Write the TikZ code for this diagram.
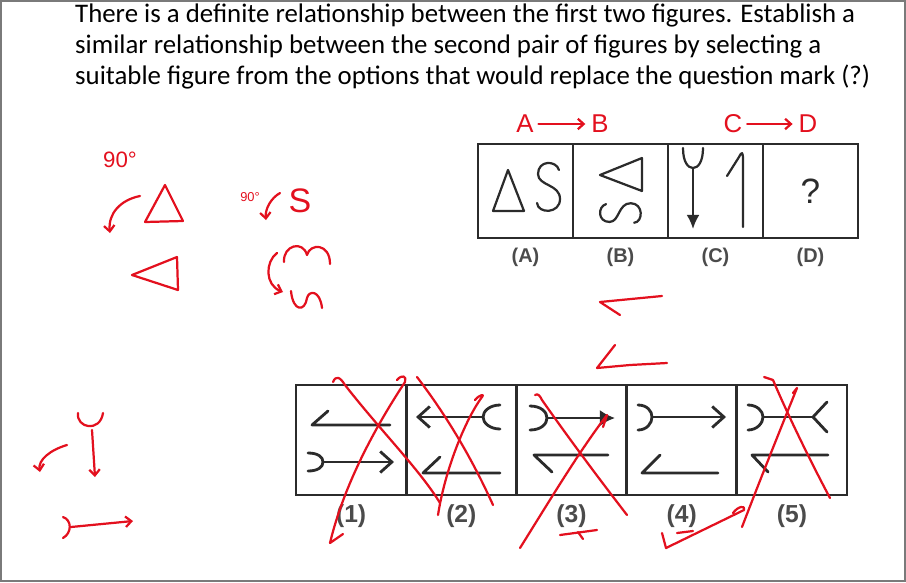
\documentclass[tikz,border=0pt]{standalone}
\usepackage{fontspec}
\setmainfont{Carlito}
\newfontfamily\labelfont{Liberation Sans}
\usepackage{xcolor}
\definecolor{ink}{HTML}{E3101E}
\definecolor{scan}{HTML}{2B2B2B}
\definecolor{edgegray}{HTML}{7A7A7A}
\usepackage{tikz}
\usetikzlibrary{positioning,arrows.meta}

\tikzset{
  sglyph/.pic={
    \draw[fig] (10.5,-17) .. controls (7.5,-27) and (-10.5,-27) .. (-10.5,-13)
      .. controls (-10.5,-1) and (11.5,-3) .. (11.5,12)
      .. controls (11.5,27) and (-10.5,27) .. (-11.5,16);
  }
}

\begin{document}
\begin{tikzpicture}[x=0.03cm, y=-0.03cm,
    qtext/.style={anchor=base west, inner sep=0pt, font=\fontsize{22.9}{26}\selectfont},
    cellbox/.style={draw=scan, line width=2pt, minimum width=2.85cm,
                    minimum height=2.82cm, inner sep=0pt},
    optbox/.style={draw=scan, line width=2.4pt, minimum width=3.306cm,
                   minimum height=3.3cm, inner sep=0pt},
    optlabel/.style={font=\labelfont\bfseries\fontsize{17}{17}\selectfont,
                     text=scan!85, inner sep=1pt},
    anslabel/.style={optlabel, font=\labelfont\bfseries\fontsize{21}{21}\selectfont},
    fig/.style={draw=scan, line width=1.9pt, line cap=round, line join=round},
    bfig/.style={fig, line width=2.4pt},
    filltip/.style={-{Latex[length=12pt,width=11pt]}},
    bigtip/.style={-{Latex[length=13pt,width=14pt]}},
    bartip/.style={-{Straight Barb[length=10pt,width=18pt]}},
    hand/.style={draw=ink, line width=1.9pt, line cap=round, line join=round},
    handtxt/.style={text=ink, inner sep=1pt, font=\labelfont\fontsize{22}{22}\selectfont},
    harr/.style={hand, -{Straight Barb[length=5pt,width=9pt]}}]
  \useasboundingbox (0,0) rectangle (906,582);
  \draw[draw=edgegray, line width=1.3pt] (0.8,0.8) rectangle (905.2,581.2);

  \node[qtext] (q1) at (75,22.7) {There is a definite relationship between the first two figures. Establish a};
  \node[qtext] (q2) at (75,53.3) {similar relationship between the second pair of figures by selecting a};
  \node[qtext] (q3) at (75,84) {suitable figure from the options that would replace the question mark (?)};

  % problem figures
  \node[cellbox] (cA) at (525.5,191) {};
  \node[cellbox] (cB) at (620.5,191) {};
  \node[cellbox] (cC) at (715.5,191) {};
  \node[cellbox] (cD) at (810.5,191) {};
  \node[optlabel, below=0.22cm of cA] (lA) {(A)};
  \node[optlabel, below=0.22cm of cB] (lB) {(B)};
  \node[optlabel, below=0.22cm of cC] (lC) {(C)};
  \node[optlabel, below=0.22cm of cD] (lD) {(D)};

  \draw[fig] (508,170) -- (493,211) -- (524,211) -- cycle;
  \pic at (548.5,187) {sglyph};
  \draw[fig] (600,175) -- (642,158) -- (642,191) -- cycle;
  \pic[rotate=90, scale=0.85] at (620.5,213) {sglyph};
  \draw[fig] (683,148) .. controls (683,162) and (688,168) .. (693,168)
    .. controls (698,168) and (703,162) .. (703,148);
  \draw[fig, filltip] (693,168) -- (693,229);
  \draw[fig] (727,176) -- (739,157) .. controls (742,151) and (743,152) .. (743,160) -- (743,227);
  \node[font=\labelfont\fontsize{30}{30}\selectfont, text=scan] (qm) at (cD) {?};

  % answer figures
  \node[optbox] (o1) at (351.1,440) {};
  \node[optbox] (o2) at (461.3,440) {};
  \node[optbox] (o3) at (571.5,440) {};
  \node[optbox] (o4) at (681.7,440) {};
  \node[optbox] (o5) at (791.9,440) {};
  \node[anslabel, below=0.2cm of o1] (l1) {(1)};
  \node[anslabel, below=0.2cm of o2] (l2) {(2)};
  \node[anslabel, below=0.2cm of o3] (l3) {(3)};
  \node[anslabel, below=0.2cm of o4] (l4) {(4)};
  \node[anslabel, below=0.2cm of o5] (l5) {(5)};

  \draw[bfig] (328,411) -- (312,425) -- (390,425);
  \draw[bfig] (308,453) .. controls (318,453) and (323,457) .. (323,462)
    .. controls (323,467) and (318,471) .. (308,471);
  \draw[bfig, bartip] (323,462) -- (394,462);

  \draw[bfig] (500,405) .. controls (490,405) and (483,411) .. (483,417)
    .. controls (483,423) and (490,429) .. (500,429);
  \draw[bfig, bartip] (483,417) -- (416,417);
  \draw[bfig] (440,457) -- (423,473) -- (500,473);

  \draw[bfig] (530,406) .. controls (541,406) and (547,412) .. (547,418)
    .. controls (547,424) and (541,430) .. (530,430);
  \draw[bfig, bigtip] (547,418) -- (615,418);
  \draw[bfig] (552,472) -- (534,455) -- (608,455);

  \draw[bfig] (638,405) .. controls (647,405) and (652,411) .. (652,417)
    .. controls (652,423) and (647,430) .. (638,430);
  \draw[bfig, bartip] (652,417) -- (726,417);
  \draw[bfig] (660,455) -- (642,473) -- (718,473);

  \draw[bfig] (748,405) .. controls (757,405) and (763,411) .. (763,417)
    .. controls (763,423) and (757,430) .. (748,430);
  \draw[bfig] (763,417) -- (813,417);
  \draw[bfig] (827,402) -- (813,417) -- (827,432);
  \draw[bfig] (768,472) -- (752,455) -- (828,455);

  % red working
  \node[handtxt] (hA) at (525,124) {A};
  \node[handtxt] (hB) at (600,124) {B};
  \node[handtxt] (hC) at (733,124) {C};
  \node[handtxt] (hD) at (808,124) {D};
  \draw[harr, shorten <=3pt, shorten >=4pt] (hA) -- (hB);
  \draw[harr, shorten <=3pt, shorten >=4pt] (hC) -- (hD);

  \node[handtxt, font=\labelfont\fontsize{19}{19}\selectfont] (deg1) at (120,160) {90°};
  \draw[harr] (140,196) .. controls (120,200) and (108,214) .. (110,233);
  \draw[hand] (165,185) -- (145,222) -- (183,221) -- cycle;
  \draw[hand] (132,275) -- (177,257) -- (178,290) -- cycle;

  \node[handtxt, font=\labelfont\fontsize{11}{11}\selectfont] (deg2) at (250,197) {90°};
  \draw[harr] (280,193) .. controls (271,198) and (265,209) .. (266,220);
  \node[handtxt, font=\labelfont\fontsize{29}{29}\selectfont] (hS) at (300,201) {S};
  \draw[hand] (284,262) .. controls (283,245) and (303,240) .. (307,255)
    .. controls (310,243) and (330,243) .. (330,264);
  \draw[harr] (277,253) .. controls (265,262) and (265,285) .. (283,292);
  \draw[hand] (291,291) .. controls (293,312) and (305,312) .. (307,298)
    .. controls (309,290) and (320,290) .. (322,308);

  \draw[hand] (662,296) -- (600,302) -- (620,315);
  \draw[hand] (615,345) -- (597,368) -- (630,365) -- (667,363);

  \draw[hand] (78,413) .. controls (76,428) and (100,433) .. (103,413);
  \draw[harr] (92,430) -- (95,477);
  \draw[harr] (67,445) .. controls (50,450) and (38,460) .. (40,472);
  \draw[hand] (63,517) .. controls (72,520) and (72,533) .. (63,538);
  \draw[harr] (71,527) -- (133,521);

  \draw[hand] (333,382) .. controls (336,375) and (340,377) .. (345,385)
    .. controls (380,430) and (420,470) .. (440,503);
  \draw[hand] (397,380) .. controls (402,374) and (407,376) .. (405,382)
    .. controls (380,420) and (345,480) .. (330,543) -- (343,534);
  \draw[hand] (417,377) .. controls (450,420) and (475,465) .. (493,505);
  \draw[hand] (475,400) .. controls (480,394) and (485,394) .. (482,397)
    .. controls (465,420) and (445,470) .. (438,515);
  \draw[hand] (535,395) .. controls (538,393) and (540,396) .. (542,400)
    .. controls (570,440) and (600,480) .. (627,515);
  \draw[hand] (520,548) .. controls (550,500) and (580,450) .. (607,415) -- (603,427);
  \draw[hand] (560,535) -- (597,530);
  \draw[hand] (578,532) -- (583,539);
  \draw[hand] (764,377) -- (773,380) .. controls (790,420) and (815,470) .. (830,498);
  \draw[hand] (742,527) .. controls (760,480) and (780,430) .. (797,388) -- (793,393);
  \draw[hand] (662,533) -- (666,548) -- (744,510)
    .. controls (746,505) and (738,506) .. (733,513);
  \draw[hand] (677,533) -- (693,531);
\end{tikzpicture}
\end{document}
